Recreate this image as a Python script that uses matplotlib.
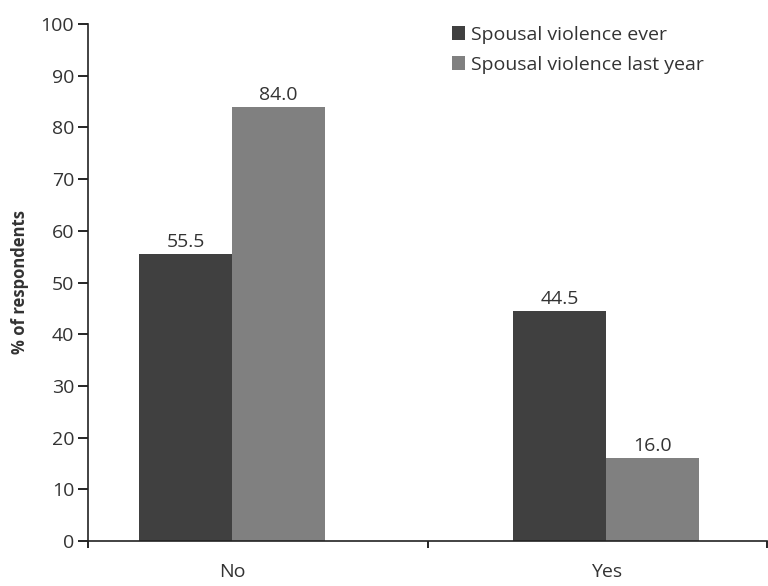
import matplotlib.pyplot as plt
import numpy as np

categories = ["No", "Yes"]
series_names = ["Spousal violence ever", "Spousal violence last year"]
ever = [55.5, 44.5]
last_year = [84.0, 16.0]
colors = ["#404040", "#808080"]

plt.rcParams["font.family"] = ["Open Sans", "DejaVu Sans"]
text_color = "#333333"

fig = plt.figure(figsize=(7.68, 5.86), dpi=100)
ax = fig.add_axes([88 / 768, 45 / 586, 679 / 768, 517 / 586])

x = np.arange(len(categories))
width = 0.249
bars1 = ax.bar(x - width / 2, ever, width, color=colors[0], label=series_names[0])
bars2 = ax.bar(x + width / 2, last_year, width, color=colors[1], label=series_names[1])

for bars in (bars1, bars2):
    for b in bars:
        ax.text(b.get_x() + b.get_width() / 2, b.get_height() + 0.6, f"{b.get_height():.1f}",
                ha="center", va="bottom", fontsize=14, color=text_color)

ax.set_xlim(-0.385, 1.430)
ax.set_ylim(0, 100)
ax.set_yticks(np.arange(0, 101, 10))
ax.tick_params(axis="y", direction="out", length=7, width=1.2, pad=3,
               labelsize=14, labelcolor=text_color)

# category labels without marks, boundary ticks on the minor locator
ax.set_xticks(x)
ax.set_xticklabels(categories)
ax.tick_params(axis="x", which="major", length=0, pad=16, labelsize=14, labelcolor=text_color)
ax.set_xticks([-0.385, 0.524, 1.430], minor=True)
ax.tick_params(axis="x", which="minor", direction="out", length=5, width=1.2)

for side in ("top", "right"):
    ax.spines[side].set_visible(False)
for side in ("left", "bottom"):
    ax.spines[side].set_linewidth(1.2)
    ax.spines[side].set_color("#222222")

ax.set_ylabel("% of respondents", fontsize=12, fontweight="bold", color=text_color, labelpad=8)

leg = ax.legend(loc="upper left", bbox_to_anchor=(0.51, 1.03), frameon=False, fontsize=14,
                handlelength=0.7, handleheight=0.7, handletextpad=0.3, labelspacing=0.6)
for t in leg.get_texts():
    t.set_color(text_color)

fig.savefig("out.png", dpi=100)
